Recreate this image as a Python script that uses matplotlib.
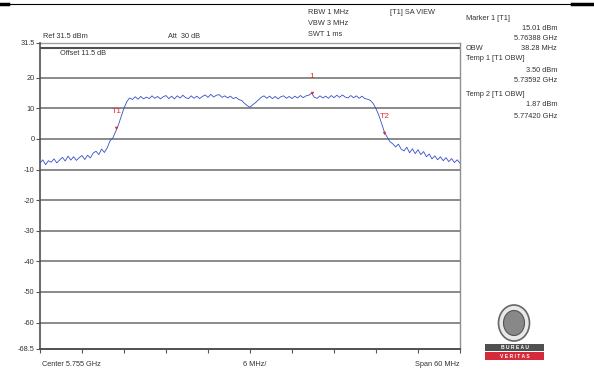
import numpy as np
import matplotlib
matplotlib.use('Agg')
import matplotlib.pyplot as plt
from matplotlib.patches import Rectangle, Ellipse
from matplotlib.lines import Line2D

plt.rcParams['font.family'] = ['Liberation Sans', 'DejaVu Sans']

# sweep: 5.725 .. 5.785 GHz, 0.4 MHz per point
freq_ghz = 5.725 + np.arange(151) * 0.0004
level_dbm = [
    -7.9, -6.8, -8.4, -7.1, -7.6, -6.5, -7.8, -6.9, -6.0, -7.2,
    -5.6, -6.9, -5.8, -7.0, -6.1, -5.4, -6.7, -5.3, -6.2, -4.6,
    -4.0, -5.1, -3.3, -4.4, -2.9,
    -0.6, 0.3, 2.4, 4.6, 7.4, 10.1, 12.2, 13.4,
    12.9, 13.8, 13.0, 13.9, 13.1, 13.7, 13.2, 14.1, 13.3, 13.9,
    13.1, 13.8, 14.2, 13.2, 14.0, 13.1, 14.1, 13.4, 14.3, 13.5,
    13.2, 14.1, 13.3, 14.0, 13.2, 13.9, 14.4, 13.6, 14.6, 13.7,
    14.3, 14.5, 13.6, 14.1, 13.4, 14.0, 13.2, 13.6, 12.9,
    12.6, 11.7, 10.9, 10.4, 11.2, 11.9, 12.8, 13.6,
    14.1, 13.3, 14.0, 13.2, 13.9, 13.1, 13.8, 14.1, 13.3, 13.9,
    13.2, 14.0, 13.4, 14.2, 13.5, 14.1, 14.3, 15.0, 13.6, 13.3,
    14.1, 13.4, 14.0, 13.3, 14.2, 13.5, 14.3, 13.6, 14.4, 13.7,
    13.4, 14.2, 13.5, 14.1, 13.3, 14.0, 13.2, 13.0,
    12.6, 11.6, 9.9, 7.8, 5.1, 2.3, 0.6, -0.9, -1.6, -2.6, -1.7, -3.3,
    -3.9, -2.7, -4.5, -3.2, -4.8, -3.5, -5.1, -4.1, -5.8, -4.9,
    -6.5, -5.5, -6.8, -5.8, -7.1, -6.1, -7.4, -6.4, -7.7, -6.8, -7.9,
]

marker_names = ['1', 'T1', 'T2']
marker_freq = [5.76388, 5.73592, 5.77420]
marker_level = [15.01, 3.50, 1.87]

y_ticks = [31.5, 20, 10, 0, -10, -20, -30, -40, -50, -60, -68.5]
y_ticklabels = ['31.5', '20', '10', '0', '-10', '-20', '-30', '-40', '-50', '-60', '-68.5']

header_left = ['RBW 1 MHz', 'VBW 3 MHz', 'SWT 1 ms']
side_lines = [
    ('Marker 1 [T1]', ''),
    ('', '15.01 dBm'),
    ('', '5.76388 GHz'),
    ('OBW', '38.28 MHz'),
    ('Temp 1 [T1 OBW]', ''),
    ('', '3.50 dBm'),
    ('', '5.73592 GHz'),
    ('Temp 2 [T1 OBW]', ''),
    ('', '1.87 dBm'),
    ('', '5.77420 GHz'),
]
side_y = [18, 28, 39, 49, 59, 70, 81, 94, 105, 116]

W, H = 594, 374
fig = plt.figure(figsize=(W / 100, H / 100), dpi=100)
fs = 5.3
txt = '#333333'


def fx(px):
    return px / W


def fy(py):
    return 1 - py / H


ax = fig.add_axes([fx(40), fy(348.6), fx(460) - fx(40), fy(42.6) - fy(348.6)])
ax.set_xlim(5.725, 5.785)
ax.set_ylim(-68.5, 31.5)

for v in y_ticks[1:-1]:
    ax.axhline(v, color='#8a8a8a', lw=1.4, zorder=1)
ax.axhline(31.5, color='#a0a0a0', lw=1.0, zorder=1, clip_on=False)
ax.axhline(29.8, color='#505050', lw=1.5, zorder=1)

ax.plot(freq_ghz, level_dbm, color='#3550c8', lw=0.6, zorder=3)

for name, f, l in zip(marker_names, marker_freq, marker_level):
    ax.plot([f], [l], marker='v', ms=2.5, color='#e03030', mew=0, zorder=4)
    ax.annotate(name, (f, l), xytext=(0, 12), textcoords='offset points',
                ha='center', va='center', fontsize=fs + 0.8, color='#e03030')

ax.set_yticks(y_ticks)
ax.set_yticklabels(y_ticklabels)
ax.set_xticks(np.arange(5.725, 5.7851, 0.006))
ax.set_xticklabels([])
ax.tick_params(axis='y', length=3, width=0.8, color='#555555', labelsize=fs,
               labelcolor=txt, pad=1)
ax.tick_params(axis='x', length=3, width=0.8, color='#555555')
ax.spines['top'].set_visible(False)
ax.spines['left'].set_color('#505050')
ax.spines['left'].set_linewidth(1.2)
ax.spines['bottom'].set_color('#505050')
ax.spines['bottom'].set_linewidth(1.4)
ax.spines['right'].set_color('#909090')
ax.spines['right'].set_linewidth(1.0)

# header texts
for i, s in enumerate(header_left):
    fig.text(fx(308), fy(12 + 11.5 * i), s, fontsize=fs, color=txt, va='center')
fig.text(fx(390), fy(12), '[T1] SA VIEW', fontsize=fs, color=txt, va='center')
fig.text(fx(43), fy(36), 'Ref 31.5 dBm', fontsize=fs, color=txt, va='center')
fig.text(fx(168), fy(36), 'Att  30 dB', fontsize=fs, color=txt, va='center')
fig.text(fx(60), fy(53.5), 'Offset 11.5 dB', fontsize=fs, color=txt, va='center')

for (left, right), y in zip(side_lines, side_y):
    if left:
        fig.text(fx(466), fy(y), left, fontsize=fs, color=txt, va='center')
    if right:
        fig.text(fx(557), fy(y), right, fontsize=fs, color=txt, va='center', ha='right')

fig.text(fx(42), fy(365), 'Center 5.755 GHz', fontsize=fs, color=txt, va='center')
fig.text(fx(243), fy(365), '6 MHz/', fontsize=fs, color=txt, va='center')
fig.text(fx(460), fy(365), 'Span 60 MHz', fontsize=fs, color=txt, va='center', ha='right')

# page rule at top
fig.add_artist(Line2D([0, fx(592)], [fy(4), fy(4)], color='black', lw=0.8))
fig.add_artist(Line2D([0, fx(8)], [fy(4), fy(4)], color='black', lw=2.5))
fig.add_artist(Line2D([fx(572), fx(592)], [fy(4), fy(4)], color='black', lw=2.5))

# logo
fig.add_artist(Ellipse((fx(514), fy(323)), 31 / W, 36 / H, fc='#e8e8e8',
                       ec='#666666', lw=1.2))
fig.add_artist(Ellipse((fx(514), fy(323)), 21 / W, 25 / H, fc='#888888',
                       ec='#555555', lw=0.8))
fig.add_artist(Rectangle((fx(485), fy(351)), 59 / W, 7 / H, fc='#505050', ec='none'))
fig.add_artist(Rectangle((fx(485), fy(360)), 59 / W, 8 / H, fc='#d42a3a', ec='none'))
fig.text(fx(514.5), fy(347.5), 'B U R E A U', fontsize=3.6, color='white',
         ha='center', va='center', weight='bold')
fig.text(fx(514.5), fy(356), 'V E R I T A S', fontsize=3.6, color='white',
         ha='center', va='center', weight='bold')

fig.savefig('out.png', dpi=100)
